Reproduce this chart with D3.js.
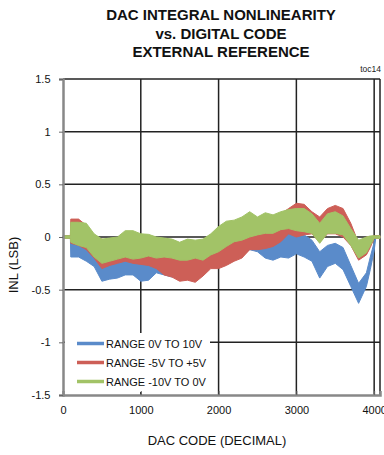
<!DOCTYPE html>
<html>
<head>
<meta charset="utf-8">
<script src="https://cdn.jsdelivr.net/npm/d3@7"></script>
<style>
  body { margin: 0; background: #fff; }
  svg { display: block; }
</style>
</head>
<body>
<script>
// Data (INL envelope per series, in LSB)
const codes = [0, 95, 100, 200, 300, 400, 500, 600, 700, 800, 900, 1000, 1100, 1200, 1300, 1400, 1500, 1600, 1700, 1800, 1900,
  2000, 2100, 2200, 2300, 2400, 2500, 2600, 2700, 2800, 2900, 3000, 3100, 3200, 3300, 3400, 3500, 3600, 3700, 3800, 3900,
  3950, 4000, 4020, 4075];

const blueTop = [0.012, 0.012, 0.02, 0.0, -0.02, -0.06, -0.18, -0.18, -0.16, -0.14, -0.14, -0.2, -0.2, -0.14, -0.15, -0.17, -0.17, -0.16, -0.16, -0.12, -0.07,
  -0.05, -0.03, 0.0, 0.03, 0.06, 0.05, 0.0, -0.02, 0.02, 0.04, 0.05, 0.02, -0.03, -0.14, -0.08, -0.06, -0.1, -0.27, -0.44, -0.34,
  -0.19, -0.05, 0.012, 0.012];
const blueBot = [-0.012, -0.012, -0.19, -0.19, -0.23, -0.28, -0.42, -0.4, -0.39, -0.36, -0.36, -0.42, -0.41, -0.34, -0.36, -0.38, -0.37, -0.36, -0.36, -0.33, -0.27,
  -0.26, -0.24, -0.2, -0.17, -0.12, -0.14, -0.2, -0.22, -0.19, -0.2, -0.16, -0.19, -0.23, -0.39, -0.28, -0.25, -0.31, -0.47, -0.63, -0.47,
  -0.31, -0.13, -0.012, -0.012];

const redTop = [0.012, 0.012, 0.17, 0.17, 0.11, 0.0, -0.02, -0.04, -0.03, 0.02, 0.02, 0.0, -0.02, -0.04, -0.05, -0.06, -0.09, -0.07, -0.07, -0.06, -0.02,
  0.05, 0.1, 0.11, 0.13, 0.18, 0.15, 0.19, 0.18, 0.22, 0.27, 0.32, 0.31, 0.24, 0.19, 0.27, 0.3, 0.27, 0.13, -0.06, 0.0,
  0.0, 0.012, 0.012, 0.012];
const redBot = [-0.012, -0.012, -0.06, -0.08, -0.12, -0.2, -0.3, -0.27, -0.25, -0.23, -0.25, -0.26, -0.27, -0.3, -0.36, -0.38, -0.42, -0.41, -0.43, -0.37, -0.3,
  -0.3, -0.27, -0.23, -0.2, -0.12, -0.12, -0.11, -0.09, -0.045, 0.03, 0.0, 0.02, 0.03, -0.05, 0.03, 0.03, 0.0, -0.08, -0.22, -0.17,
  -0.1, -0.012, -0.012, -0.012];

const greenTop = [0.012, 0.012, 0.14, 0.14, 0.13, 0.03, -0.02, -0.01, 0.0, 0.06, 0.06, 0.03, 0.025, 0.0, -0.01, -0.02, -0.05, -0.02, -0.03, -0.02, 0.03,
  0.1, 0.15, 0.16, 0.19, 0.24, 0.19, 0.23, 0.21, 0.24, 0.26, 0.27, 0.27, 0.22, 0.13, 0.22, 0.24, 0.2, 0.08, -0.03, 0.0,
  0.01, 0.012, 0.012, 0.012];
const greenBot = [-0.012, -0.012, -0.05, -0.08, -0.1, -0.19, -0.25, -0.23, -0.21, -0.19, -0.21, -0.2, -0.18, -0.2, -0.19, -0.2, -0.22, -0.22, -0.2, -0.22, -0.17,
  -0.14, -0.09, -0.045, -0.03, 0.0, 0.02, 0.035, 0.035, 0.07, 0.08, 0.06, 0.05, 0.035, -0.06, 0.035, 0.035, 0.02, -0.08, -0.2, -0.15,
  -0.08, -0.012, -0.012, -0.012];

const seriesNames = ['RANGE 0V TO 10V', 'RANGE -5V TO +5V', 'RANGE -10V TO 0V'];
const xTicks = [0, 1000, 2000, 3000, 4000];
const yTicks = [-1.5, -1, -0.5, 0, 0.5, 1, 1.5];
const titleLines = ['DAC INTEGRAL NONLINEARITY', 'vs. DIGITAL CODE', 'EXTERNAL REFERENCE'];

const colors = ['#5a8bca', '#cd5f57', '#a2c367'];

const W = 384, H = 455;
const plotLeft = 63, plotRight = 380, plotTop = 79, plotBottom = 395;

const svg = d3.select('body').append('svg')
  .attr('width', W)
  .attr('height', H);

const x = d3.scaleLinear().domain([0, 4075]).range([plotLeft, plotRight]);
const y = d3.scaleLinear().domain([-1.5, 1.5]).range([plotBottom, plotTop]);

// title
svg.append('g').selectAll('text')
  .data(titleLines)
  .enter().append('text')
  .attr('x', 221)
  .attr('y', (d, i) => 20 + i * 18.5)
  .attr('text-anchor', 'middle')
  .attr('font-family', 'Liberation Sans, Arial, sans-serif')
  .attr('font-weight', 'bold')
  .attr('font-size', 15)
  .attr('fill', '#111')
  .text(d => d);

svg.append('text')
  .attr('x', 381)
  .attr('y', 72)
  .attr('text-anchor', 'end')
  .attr('font-family', 'Liberation Sans, Arial, sans-serif')
  .attr('font-size', 8.5)
  .attr('fill', '#222')
  .text('toc14');

// gridlines
const grid = svg.append('g');
grid.selectAll('line.h')
  .data(yTicks.filter(v => v > -1.5))
  .enter().append('line')
  .attr('class', 'h')
  .attr('x1', plotLeft).attr('x2', plotRight)
  .attr('y1', d => y(d)).attr('y2', d => y(d))
  .attr('stroke', '#222')
  .attr('stroke-width', 1.5);
grid.selectAll('line.v')
  .data(xTicks.filter(v => v > 0))
  .enter().append('line')
  .attr('class', 'v')
  .attr('x1', d => x(d)).attr('x2', d => x(d))
  .attr('y1', plotTop).attr('y2', plotBottom)
  .attr('stroke', '#222')
  .attr('stroke-width', 1.5);
grid.append('line')
  .attr('x1', plotRight).attr('x2', plotRight)
  .attr('y1', plotTop).attr('y2', plotBottom)
  .attr('stroke', '#222')
  .attr('stroke-width', 1.5);

// series bands
const series = [
  { hi: blueTop, lo: blueBot },
  { hi: redTop, lo: redBot },
  { hi: greenTop, lo: greenBot }
];

const area = d3.area()
  .x(d => x(d.c))
  .y0(d => y(d.lo))
  .y1(d => y(d.hi));

series.forEach((s, i) => {
  const pts = codes.map((c, k) => ({ c: c, hi: s.hi[k], lo: s.lo[k] }));
  svg.append('path')
    .datum(pts)
    .attr('d', area)
    .attr('fill', colors[i])
    .attr('stroke', colors[i])
    .attr('stroke-width', 1)
    .attr('stroke-linejoin', 'round');
});

// legend
const legend = svg.append('g');
legend.append('rect')
  .attr('x', 65).attr('y', 333)
  .attr('width', 145).attr('height', 59)
  .attr('fill', '#fff');
seriesNames.forEach((name, i) => {
  const ly = 343.5 + i * 19;
  legend.append('line')
    .attr('x1', 77).attr('x2', 104)
    .attr('y1', ly).attr('y2', ly)
    .attr('stroke', colors[i])
    .attr('stroke-width', 3.5);
  legend.append('text')
    .attr('x', 106)
    .attr('y', ly + 4)
    .attr('font-family', 'Liberation Sans, Arial, sans-serif')
    .attr('font-size', 11)
    .attr('fill', '#111')
    .text(name);
});

// axes
const xAxis = d3.axisBottom(x).tickValues(xTicks).tickSize(-4).tickPadding(11).tickFormat(d3.format('d'));
const yAxis = d3.axisLeft(y).tickValues(yTicks).tickSize(4).tickPadding(8).tickFormat(d => d);

const gx = svg.append('g')
  .attr('transform', `translate(0,${plotBottom})`)
  .call(xAxis);
const gy = svg.append('g')
  .attr('transform', `translate(${plotLeft},0)`)
  .call(yAxis);

[gx, gy].forEach(g => {
  g.select('.domain').attr('stroke', '#888').attr('stroke-width', 2.5);
  g.selectAll('.tick line').attr('stroke', '#666').attr('stroke-width', 1);
  g.selectAll('.tick text')
    .attr('font-family', 'Liberation Sans, Arial, sans-serif')
    .attr('font-size', 11)
    .attr('fill', '#111');
});
gy.selectAll('.tick text').attr('x', -12.5);

// axis titles
svg.append('text')
  .attr('x', 217)
  .attr('y', 445)
  .attr('text-anchor', 'middle')
  .attr('font-family', 'Liberation Sans, Arial, sans-serif')
  .attr('font-size', 13)
  .attr('fill', '#111')
  .text('DAC CODE (DECIMAL)');

svg.append('text')
  .attr('transform', 'translate(18,265) rotate(-90)')
  .attr('text-anchor', 'middle')
  .attr('font-family', 'Liberation Sans, Arial, sans-serif')
  .attr('font-size', 13)
  .attr('fill', '#111')
  .text('INL (LSB)');
</script>
</body>
</html>
